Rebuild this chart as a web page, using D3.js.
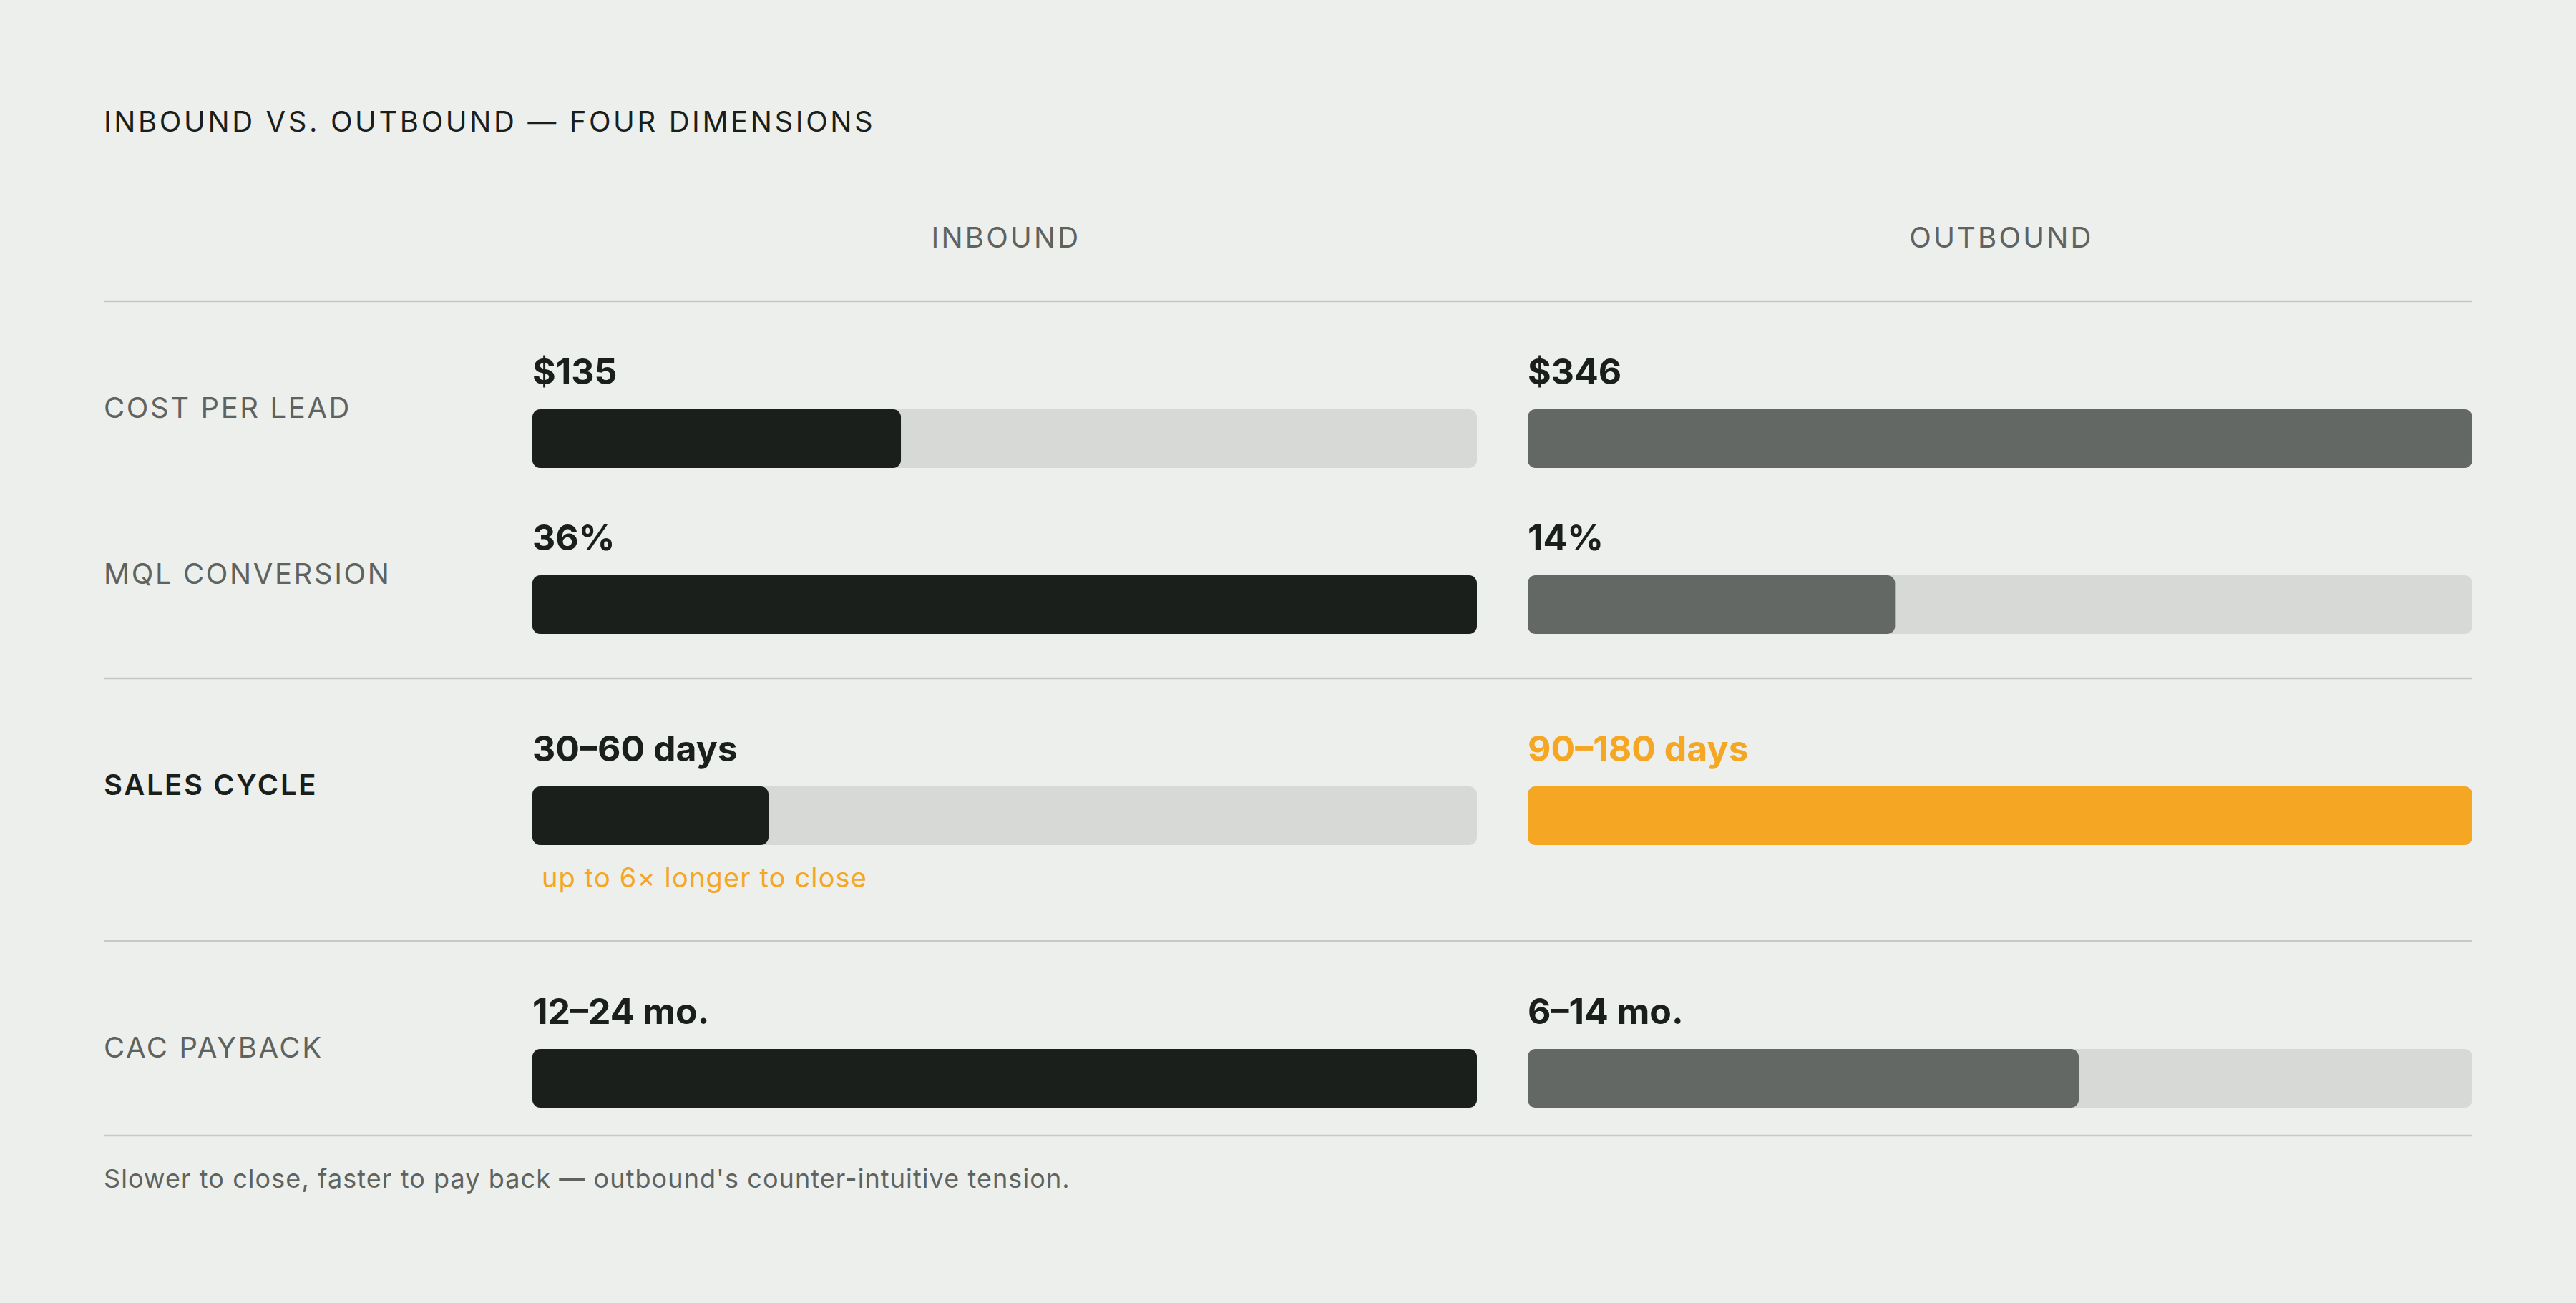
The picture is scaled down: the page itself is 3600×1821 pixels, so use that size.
<!DOCTYPE html>
<html>
<head>
<meta charset="utf-8">
<script src="https://cdn.jsdelivr.net/npm/d3@7"></script>
<style>
  html, body { margin: 0; padding: 0; background: #EDEFEC; }
  svg { display: block; font-family: Inter, "Noto Sans", sans-serif; }
</style>
</head>
<body>
<svg id="chart" width="3600" height="1821"></svg>
<script>
// ---- Data ----
const title = "INBOUND VS. OUTBOUND — FOUR DIMENSIONS";
const columns = ["INBOUND", "OUTBOUND"];
const categories = ["COST PER LEAD", "MQL CONVERSION", "SALES CYCLE", "CAC PAYBACK"];
const inboundLabels = ["$135", "36%", "30–60 days", "12–24 mo."];
const outboundLabels = ["$346", "14%", "90–180 days", "6–14 mo."];
const inboundValues = [135, 36, 45, 24];
const outboundValues = [346, 14, 180, 14];
const highlightCategory = "SALES CYCLE";
const annotation = "up to 6× longer to close";
const footnote = "Slower to close, faster to pay back — outbound's counter-intuitive tension.";

// ---- Layout / style ----
const W = 3600, H = 1821;
const left = 145, right = 3455;
const colX = [744, 2135];
const trackW = 1320;
const barH = 82;
const barTops = [572, 804, 1099, 1466];
const dividers = [421, 948, 1315, 1587];
const C = {
  bg: "#EDEFEC", dark: "#1B1F1C", grey: "#646864", track: "#D7D9D6",
  rule: "#C6C8C5", orange: "#F5A623", text2: "#5F635F"
};

const svg = d3.select("#chart");
svg.append("rect").attr("width", W).attr("height", H).attr("fill", C.bg);

// Title
svg.append("text").attr("x", left).attr("y", 184)
  .attr("font-size", 40).attr("font-weight", 400).attr("letter-spacing", "0.09em")
  .attr("fill", C.dark).text(title);

// Column headers
const colCenter = d3.scaleOrdinal().domain(columns).range(colX.map(x => x + trackW / 2));
svg.selectAll("text.col").data(columns).join("text").attr("class", "col")
  .attr("x", d => colCenter(d) + 2).attr("y", 346)
  .attr("text-anchor", "middle")
  .attr("font-size", 40).attr("font-weight", 400).attr("letter-spacing", "0.08em")
  .attr("fill", C.text2).text(d => d);

// Dividers
svg.selectAll("line.div").data(dividers).join("line").attr("class", "div")
  .attr("x1", left).attr("x2", right).attr("y1", d => d).attr("y2", d => d)
  .attr("stroke", C.rule).attr("stroke-width", 2.5);

// Rows
const rows = categories.map((c, i) => ({
  cat: c, i, top: barTops[i],
  vals: [inboundValues[i], outboundValues[i]],
  labels: [inboundLabels[i], outboundLabels[i]]
}));

rows.forEach(r => {
  const hl = r.cat === highlightCategory;
  const x = d3.scaleLinear().domain([0, d3.max(r.vals)]).range([0, trackW]);
  const g = svg.append("g");
  // category label
  g.append("text").attr("x", left).attr("y", r.top + 12)
    .attr("font-size", 40).attr("font-weight", hl ? 600 : 400)
    .attr("letter-spacing", "0.065em")
    .attr("fill", hl ? C.dark : C.text2).text(r.cat);
  [0, 1].forEach(k => {
    const x0 = colX[k];
    // value label
    g.append("text").attr("x", x0).attr("y", r.top - 35)
      .attr("font-size", 50).attr("font-weight", 700)
      .attr("fill", (hl && k === 1) ? C.orange : C.dark).text(r.labels[k]);
    // track
    g.append("rect").attr("x", x0).attr("y", r.top).attr("width", trackW).attr("height", barH)
      .attr("rx", 11).attr("fill", C.track);
    // fill
    const fill = k === 0 ? C.dark : (hl ? C.orange : C.grey);
    g.append("rect").attr("x", x0).attr("y", r.top).attr("width", x(r.vals[k])).attr("height", barH)
      .attr("rx", 11).attr("fill", fill);
  });
  if (hl) {
    g.append("text").attr("x", colX[0] + 13).attr("y", r.top + barH + 59)
      .attr("font-size", 38).attr("font-weight", 400).attr("letter-spacing", "0.03em")
      .attr("fill", C.orange).text(annotation);
  }
});

// Footnote
svg.append("text").attr("x", left).attr("y", 1660)
  .attr("font-size", 36).attr("font-weight", 400).attr("letter-spacing", "0.03em")
  .attr("fill", C.text2).text(footnote);
</script>
</body>
</html>
